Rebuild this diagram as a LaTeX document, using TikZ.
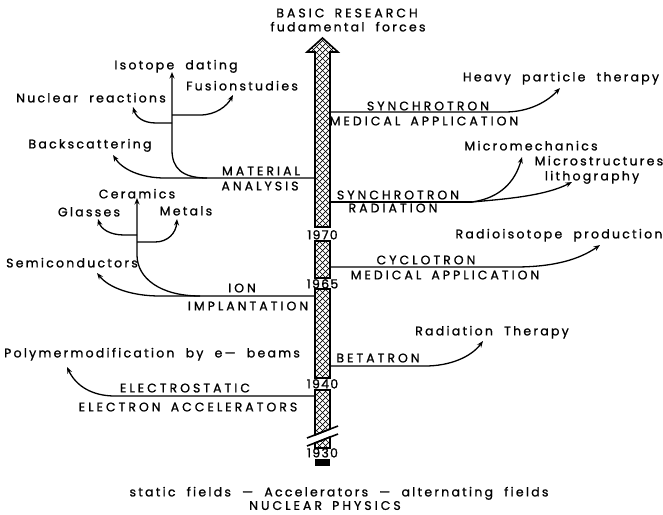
\documentclass[tikz,border=0pt]{standalone}
\usepackage{fontspec}
\usetikzlibrary{arrows.meta}
\newfontfamily\lowfam[LetterSpace=18,WordSpace=2.0,FakeBold=1.0]{Poppins}
\newfontfamily\capfam[LetterSpace=24,WordSpace=1.6,FakeBold=1.0]{Poppins}
\newfontfamily\yearfam[LetterSpace=10,FakeBold=1.4]{Poppins}
\newcommand{\lowfont}{\lowfam\fontsize{12.5}{13}\selectfont}
\newcommand{\capfont}{\capfam\fontsize{12.5}{13}\selectfont}
\newcommand{\yearfont}{\yearfam\fontsize{12.5}{13}\selectfont}
\tikzset{
  lbl/.style={font=\lowfont, inner sep=0pt, anchor=base, yshift=-4.4pt},
  capl/.style={font=\capfont, inner sep=0pt, anchor=base, yshift=-4.4pt},
  yearl/.style={font=\yearfont, inner sep=0pt, anchor=base, yshift=-4.4pt},
  con/.style={line width=1.3pt},
  arr/.style={con, -{Stealth[length=6.5pt,width=5pt]}},
  barline/.style={line width=1.6pt},
  hatchline/.style={line width=0.7pt},
}
\begin{document}
\begin{tikzpicture}[x=1pt,y=-1pt]
\useasboundingbox (0,0) rectangle (663,514);
% ---------- central bar: cross-hatch ----------
\begin{scope}
\clip (315,227) -- (315,52) -- (307,52) -- (322.5,38) -- (338,52) -- (330,52) -- (330,227) -- cycle
      (315,241) rectangle (330,278)
      (315,289) rectangle (330,378)
      (315,390) -- (315,435) -- (330,429) -- (330,390) -- cycle
      (315,443) -- (315,448) -- (330,448) -- (330,437) -- cycle;
\foreach \k in {-12,-6,...,470} {
  \draw[hatchline] (300,\k) -- (345,\k+45);
  \draw[hatchline] (300,\k+45) -- (345,\k);
}
\end{scope}
% ---------- central bar: outlines ----------
\draw[barline] (315,227) -- (315,52) -- (307,52) -- (322.5,38) -- (338,52) -- (330,52) -- (330,227) -- cycle;
\draw[barline] (315,241) rectangle (330,278);
\draw[barline] (315,289) rectangle (330,378);
\draw[barline] (315,390) -- (315,435) -- (330,429) -- (330,390) -- cycle;
\draw[barline] (307,438) -- (338,426);
\draw[barline] (307,446) -- (338,434);
\draw[barline] (315,443) -- (315,448) -- (330,448) -- (330,437) -- cycle;
\draw[barline, fill=black] (315.5,459.5) rectangle (329.5,465);
% years
\node[yearl] (y1970) at (322.5,235) {1970};
\node[yearl] (y1965) at (322.5,284) {1965};
\node[yearl] (y1940) at (322.5,384) {1940};
\node[yearl] (y1930) at (322.5,453) {1930};
% top / bottom titles
\node[capl] (basic) at (347,13) {BASIC RESEARCH};
\node[lbl] (fund) at (348,27) {fudamental forces};
\node[lbl] (stat) at (339,492) {static fields — Accelerators — alternating fields};
\node[capl] (nucl) at (325,505.5) {NUCLEAR PHYSICS};
% ---------- left: material analysis ----------
\node[lbl] (iso) at (176,65) {Isotope dating};
\node[lbl] (nuc) at (91,98) {Nuclear reactions};
\node[lbl] (fus) at (242,86) {Fusionstudies};
\node[lbl] (back) at (90,144) {Backscattering};
\node[capl] (mat) at (261,171) {MATERIAL};
\node[capl] (ana) at (260,186) {ANALYSIS};
\coordinate (maB) at (315,178);
\coordinate (maJ) at (207,178);
\coordinate (backT) at (113,155);
\coordinate (isoT) at (172,72);
\coordinate (nucJ) at (172,123);
\coordinate (nucT) at (133,107);
\coordinate (fusJ) at (172,115);
\coordinate (fusT) at (233,95);
\draw[arr] (maB) -- (165,178) .. controls (140,178) and (122,169) .. (backT);
\draw[arr] (maJ) .. controls (182,178) and (172,168) .. (172,150) -- (isoT);
\draw[arr] (nucJ) -- (156,123) .. controls (143,123) and (136,117) .. (nucT);
\draw[arr] (fusJ) -- (200,115) .. controls (216,115) and (227,106) .. (fusT);
% ---------- left: ion implantation ----------
\node[lbl] (cer) at (137,194) {Ceramics};
\node[lbl] (gla) at (89,212) {Glasses};
\node[lbl] (met) at (186,211) {Metals};
\node[lbl] (semi) at (72,263) {Semiconductors};
\node[capl] (ion) at (242,288) {ION};
\node[capl] (impl) at (248,306) {IMPLANTATION};
\coordinate (iiB) at (315,296);
\coordinate (iiJ) at (200,296);
\coordinate (semiT) at (97,273);
\coordinate (cerT) at (137,198);
\coordinate (glaJ) at (137,235);
\coordinate (glaT) at (98,219);
\coordinate (metJ) at (137,242);
\coordinate (metT) at (177,219);
\draw[arr] (iiB) -- (160,296) .. controls (132,296) and (109,288) .. (semiT);
\draw[arr] (iiJ) .. controls (160,296) and (137,278) .. (137,255) -- (cerT);
\draw[arr] (glaJ) -- (124,235) .. controls (110,235) and (101,229) .. (glaT);
\draw[arr] (metJ) -- (155,242) .. controls (168,242) and (176,233) .. (metT);
% ---------- left: electrostatic ----------
\node[lbl] (poly) at (152,353) {Polymermodification by e— beams};
\node[capl] (elst) at (185,388) {ELECTROSTATIC};
\node[capl] (elacc) at (188,407) {ELECTRON ACCELERATORS};
\coordinate (esB) at (315,396);
\coordinate (polyT) at (67,367);
\draw[arr] (esB) -- (115,396) .. controls (92,396) and (76,386) .. (polyT);
% ---------- right: synchrotron medical ----------
\node[lbl] (heavy) at (561,77) {Heavy particle therapy};
\node[capl] (syn1) at (428,106) {SYNCHROTRON};
\node[capl] (med1) at (424,121) {MEDICAL APPLICATION};
\coordinate (smB) at (330,112);
\coordinate (heavyT) at (560,88);
\draw[arr] (smB) -- (505,112) .. controls (530,112) and (548,101) .. (heavyT);
% ---------- right: synchrotron radiation ----------
\node[lbl] (micm) at (531,146) {Micromechanics};
\node[lbl] (mics) at (599,161) {Microstructures};
\node[lbl] (lith) at (592,176) {lithography};
\node[capl] (syn2) at (398,195) {SYNCHROTRON};
\node[capl] (rad) at (393,208) {RADIATION};
\coordinate (srB) at (330,202);
\coordinate (srJ) at (472,202);
\coordinate (micmT) at (522,157);
\coordinate (micsT) at (572,182);
\draw[con] (srB) -- (srJ);
\draw[arr] (srJ) .. controls (500,198) and (515,182) .. (micmT);
\draw[arr] (srJ) .. controls (505,199) and (545,196) .. (micsT);
% ---------- right: cyclotron ----------
\node[lbl] (radio) at (559,234) {Radioisotope production};
\node[capl] (cyc) at (426,260) {CYCLOTRON};
\node[capl] (med2) at (445,275) {MEDICAL APPLICATION};
\coordinate (cyB) at (330,267);
\coordinate (radioT) at (600,245);
\draw[arr] (cyB) -- (515,267) .. controls (555,267) and (580,259) .. (radioT);
% ---------- right: betatron ----------
\node[lbl] (radth) at (492,331) {Radiation Therapy};
\node[capl] (beta) at (378,358) {BETATRON};
\coordinate (beB) at (330,366);
\coordinate (radthT) at (483,341);
\draw[arr] (beB) -- (425,366) .. controls (450,366) and (471,357) .. (radthT);
\end{tikzpicture}
\end{document}
